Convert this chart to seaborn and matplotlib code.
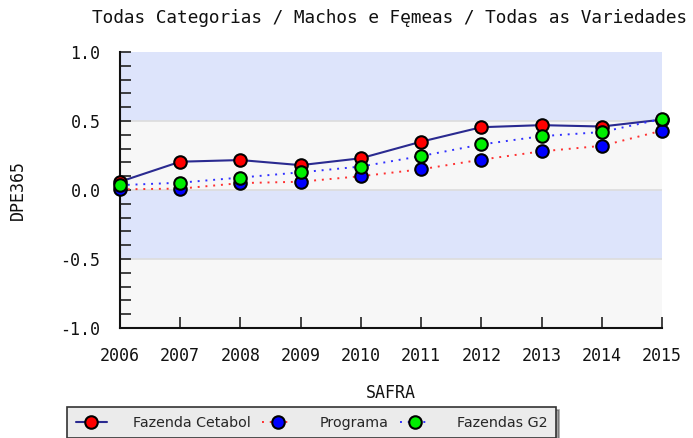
import matplotlib
matplotlib.use("Agg")
import matplotlib.pyplot as plt
import seaborn as sns
import numpy as np
import pandas as pd
from matplotlib.ticker import MultipleLocator

years = [2006, 2007, 2008, 2009, 2010, 2011, 2012, 2013, 2014, 2015]
cetabol = [0.06, 0.205, 0.217, 0.18, 0.23, 0.35, 0.455, 0.47, 0.46, 0.51]
programa = [0.005, 0.01, 0.05, 0.06, 0.10, 0.15, 0.22, 0.28, 0.32, 0.43]
g2 = [0.035, 0.053, 0.09, 0.128, 0.17, 0.246, 0.33, 0.39, 0.42, 0.515]
series_names = ["Fazenda Cetabol", "Programa", "Fazendas G2"]
title = "Todas Categorias / Machos e Fęmeas / Todas as Variedades"
xlabel = "SAFRA"
ylabel = "DPE365"
yticks = [-1.0, -0.5, 0.0, 0.5, 1.0]

sns.set_theme(style="white")
plt.rcParams['font.family'] = ['DejaVu Sans Mono', 'DejaVu Sans']

fig = plt.figure(figsize=(6.93, 4.38), dpi=100)
ax = fig.add_axes([120/693, 1-328/438, (662-120)/693, (328-52)/438])

# background bands
bands = [(-1.0, -0.5, '#f7f7f7'), (-0.5, 0.0, '#dde4fb'), (0.0, 0.5, '#f7f7f7'), (0.5, 1.0, '#dde4fb')]
for lo, hi, c in bands:
    ax.axhspan(lo, hi, color=c, zorder=0, lw=0)
for yv in [-0.5, 0.0, 0.5]:
    ax.axhline(yv, color='#dcdcdc', lw=1.2, zorder=0.5)

df = pd.DataFrame({"year": years * 3,
                   "value": cetabol + programa + g2,
                   "serie": [series_names[0]] * 10 + [series_names[1]] * 10 + [series_names[2]] * 10})

styles = {
    series_names[0]: dict(color='#2a2a90', linestyle='-', mfc='#ff0000', lw=1.5),
    series_names[1]: dict(color='#ff3030', linestyle=(0, (1, 3)), mfc='#0000ff', lw=1.4),
    series_names[2]: dict(color='#3030ff', linestyle=(0, (1, 3)), mfc='#00ee00', lw=1.4),
}
for i, name in enumerate(series_names):
    st = styles[name]
    sub = df[df.serie == name]
    sns.lineplot(data=sub, x="year", y="value", ax=ax, color=st['color'],
                 linestyle=st['linestyle'], linewidth=st['lw'], marker='o',
                 markerfacecolor=st['mfc'], markeredgecolor='black',
                 markeredgewidth=1.5, markersize=9, label=name,
                 clip_on=False, zorder=3 + i)

ax.set_xlim(2006, 2015)
ax.set_ylim(-1.0, 1.0)
ax.set_xticks(years)
ax.set_xticklabels([str(y) for y in years])
ax.set_yticks(yticks)
ax.set_yticklabels([f"{v:.1f}" for v in yticks])
ax.yaxis.set_minor_locator(MultipleLocator(0.1))

for s in ['top', 'right']:
    ax.spines[s].set_visible(False)
for s in ['left', 'bottom']:
    ax.spines[s].set_color('#111111')
    ax.spines[s].set_linewidth(1.5)

ax.tick_params(axis='both', which='major', direction='in', length=8, width=1.2,
               color='#222222', labelsize=12, labelcolor='#111111')
ax.tick_params(axis='y', which='minor', direction='in', length=8, width=1.2, color='#222222')
ax.tick_params(axis='y', which='both', left=True, pad=14)
ax.tick_params(axis='x', which='both', bottom=True, pad=14)

ax.set_xlabel(xlabel, fontsize=12, color='#111111', labelpad=13)
ax.set_ylabel(ylabel, fontsize=12, color='#111111', labelpad=24)
fig.text(389/693, 1-18/438, title, ha='center', va='center', fontsize=12.8, color='#111111')

leg = ax.legend(loc='upper left', bbox_to_anchor=(67/693, 1-407/438),
                bbox_transform=fig.transFigure, ncol=3, frameon=True,
                fancybox=False, shadow=True, borderpad=0.6, borderaxespad=0,
                handlelength=2.2, columnspacing=0.8, handletextpad=1.8,
                prop={'family': 'DejaVu Sans', 'size': 10.3})
leg.get_frame().set_facecolor('#ebebeb')
leg.get_frame().set_edgecolor('#333333')
leg.get_frame().set_linewidth(1.2)

fig.savefig("out.png", dpi=100)
